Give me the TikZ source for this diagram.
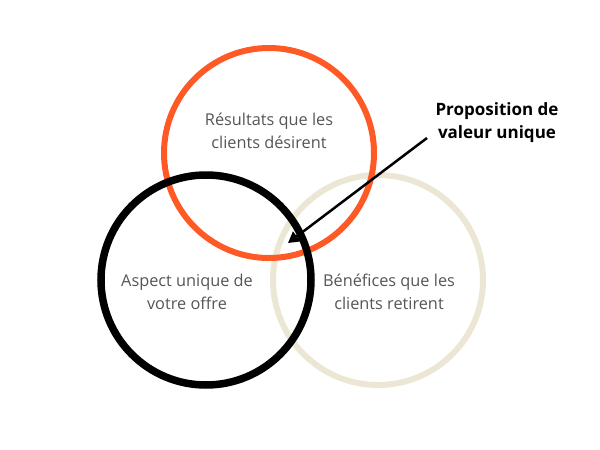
\documentclass[tikz,border=0pt]{standalone}
\usepackage{fontspec}
\setmainfont{Open Sans}
\usetikzlibrary{arrows.meta}
\definecolor{vorange}{HTML}{FF5A26}
\definecolor{vbeige}{HTML}{ECE7D4}
\definecolor{vtext}{HTML}{555555}
\begin{document}
\begin{tikzpicture}[x=1pt,y=-1pt,
  ring/.style={draw,circle,minimum size=210pt,inner sep=0pt},
  lab/.style={align=center,text=vtext,font=\fontsize{16.3}{23}\selectfont},
  blab/.style={align=center,text=black,font=\fontsize{17}{23}\selectfont\bfseries}]
\useasboundingbox (0,0) rectangle (600,450);
\node[ring,draw=vbeige,line width=6pt] (cb) at (378,280) {};
\node[ring,draw=vorange,line width=6pt] (co) at (269,153) {};
\node[ring,draw=black,line width=7.5pt] (ck) at (206,280) {};
\node[lab] (to) at (269,131) {Résultats que les\\clients désirent};
\node[lab] (tk) at (187,292) {Aspect unique de\\votre offre};
\node[lab] (tb) at (389,292) {Bénéfices que les\\clients retirent};
\node[blab] (lbl) at (497,123) {Proposition de\\valeur unique};
\coordinate (as) at (427,138);
\coordinate (at) at (288,243);
\draw[line width=2.5pt,-{Triangle[length=11pt,width=12pt]}] (as) -- (at);
\end{tikzpicture}
\end{document}
